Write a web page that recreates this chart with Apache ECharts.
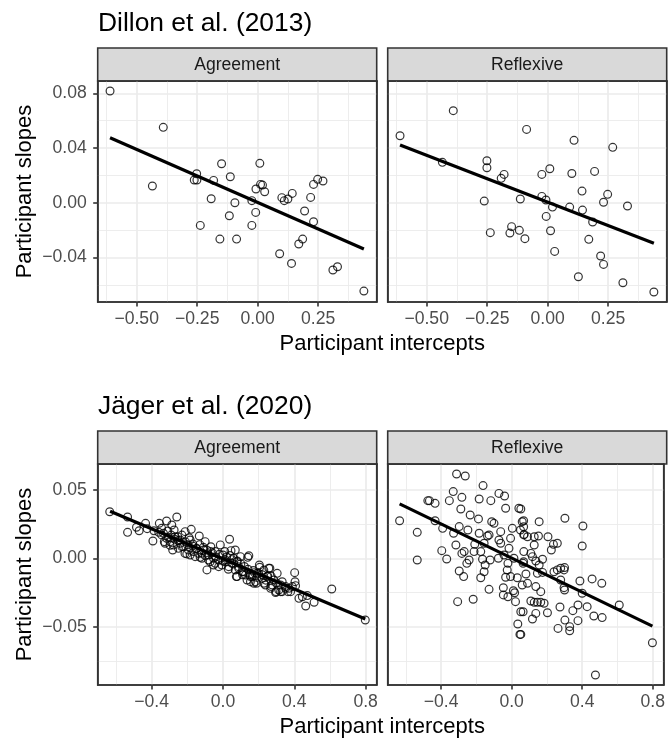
<!DOCTYPE html>
<html>
<head>
<meta charset="utf-8">
<script src="https://cdn.jsdelivr.net/npm/echarts@6/dist/echarts.min.js"></script>
<style>
  html, body { margin: 0; padding: 0; background: #fff; }
  #chart { width: 668px; height: 738px; }
</style>
</head>
<body>
<div id="chart"></div>
<script>
// ---- values: [participant intercept, participant slope] ----
const dillonAgreement = [
  [-0.610, 0.0817], [-0.390, 0.0551], [-0.435, 0.0122], [-0.252, 0.0212], [-0.262, 0.0166],
  [-0.251, 0.0166], [-0.237, -0.0166], [-0.149, 0.0285], [-0.182, 0.0163], [-0.192, 0.0029],
  [-0.113, 0.0190], [-0.156, -0.0266], [-0.117, -0.0095], [-0.094, 0.0000], [-0.087, -0.0266],
  [-0.024, 0.0015], [-0.024, -0.0166], [-0.008, -0.0071], [-0.007, 0.0100], [0.009, 0.0288],
  [0.012, 0.0134], [0.020, 0.0129], [0.029, 0.0080], [0.091, -0.0373], [0.100, 0.0037],
  [0.110, 0.0015], [0.125, 0.0027], [0.143, 0.0068], [0.140, -0.0444], [0.170, -0.0302],
  [0.186, -0.0266], [0.194, -0.0061], [0.219, 0.0039], [0.231, -0.0139], [0.231, 0.0134],
  [0.248, 0.0171], [0.270, 0.0159], [0.311, -0.0492], [0.330, -0.0468], [0.439, -0.0646]
];
const dillonReflexive = [
  [-0.610, 0.0490], [-0.390, 0.0673], [-0.435, 0.0295], [-0.251, 0.0307], [-0.251, 0.0256],
  [-0.180, 0.0207], [-0.192, 0.0178], [-0.262, 0.0012], [-0.237, -0.0219], [-0.149, -0.0175],
  [-0.156, -0.0222], [-0.117, -0.0202], [-0.094, -0.0263], [-0.113, 0.0027], [-0.087, 0.0536],
  [-0.024, 0.0207], [-0.024, 0.0046], [-0.007, 0.0020], [0.009, 0.0248], [0.020, -0.0032],
  [-0.006, -0.0100], [0.012, -0.0205], [0.029, -0.0356], [0.091, -0.0032], [0.100, 0.0214],
  [0.109, 0.0456], [0.142, 0.0085], [0.127, -0.0541], [0.144, -0.0054], [0.170, -0.0268],
  [0.186, -0.0141], [0.194, 0.0229], [0.219, -0.0390], [0.231, -0.0451], [0.231, 0.0003],
  [0.248, 0.0061], [0.269, 0.0405], [0.330, -0.0024], [0.311, -0.0585], [0.439, -0.0653]
];
const jaegerAgreement = [
  [-0.635, 0.0341], [-0.535, 0.0190], [-0.535, 0.0302], [-0.485, 0.0227], [-0.470, 0.0202],
  [-0.434, 0.0256], [-0.425, 0.0217], [-0.393, 0.0127], [-0.387, 0.0202], [-0.357, 0.0256],
  [-0.344, 0.0219], [-0.334, 0.0183], [-0.329, 0.0122], [-0.316, 0.0273], [-0.306, 0.0154],
  [-0.297, 0.0095], [-0.287, 0.0244], [-0.282, 0.0061], [-0.274, 0.0207], [-0.259, 0.0302],
  [-0.253, 0.0158], [-0.240, 0.0134], [-0.231, 0.0085], [-0.212, 0.0195], [-0.203, 0.0032],
  [-0.184, 0.0134], [-0.178, 0.0212], [-0.169, 0.0105], [-0.147, 0.0073], [-0.133, 0.0163],
  [-0.128, 0.0007], [-0.118, 0.0037], [-0.100, 0.0122], [-0.090, -0.0085], [-0.081, -0.0012],
  [-0.068, 0.0085], [-0.053, -0.0049], [-0.043, 0.0049], [-0.024, -0.0061], [-0.015, 0.0098],
  [0.000, 0.0024], [0.013, -0.0012], [0.037, 0.0139], [0.045, 0.0056], [0.060, -0.0041],
  [0.075, -0.0134], [0.088, -0.0061], [0.098, 0.0012], [0.116, -0.0098], [0.139, 0.0007],
  [0.154, -0.0134], [0.176, -0.0105], [0.188, -0.0183], [0.206, -0.0066], [0.229, -0.0183],
  [0.251, -0.0129], [0.263, -0.0073], [0.270, -0.0207], [0.295, -0.0251], [0.304, -0.0110],
  [0.323, -0.0244], [0.332, -0.0171], [0.351, -0.0220], [0.364, -0.0244],
  [0.069, 0.0061], [0.079, -0.0025], [0.145, 0.0019], [0.154, -0.0171], [0.173, -0.0183],
  [0.204, -0.0049], [0.238, -0.0195], [0.257, -0.0073], [0.267, -0.0220], [0.298, -0.0244],
  [0.332, -0.0244], [0.351, -0.0207], [0.379, -0.0244], [0.402, -0.0105], [0.404, -0.0171],
  [0.407, -0.0200], [0.426, -0.0293], [0.445, -0.0281], [0.464, -0.0349], [0.473, -0.0273],
  [0.511, -0.0322], [0.610, -0.0225], [0.798, -0.0451],
  [0.088, -0.0073], [0.107, -0.0098], [0.126, -0.0122], [0.135, -0.0159], [0.163, -0.0134],
  [0.182, -0.0171], [0.191, -0.0110], [0.220, -0.0147], [0.229, -0.0086], [0.248, -0.0134],
  [0.276, -0.0195], [0.285, -0.0159], [0.313, -0.0232], [0.323, -0.0195], [0.370, -0.0220],
  [0.389, -0.0207],
  [-0.344, 0.0171], [-0.325, 0.0110], [-0.316, 0.0146], [-0.297, 0.0122], [-0.278, 0.0097],
  [-0.269, 0.0158], [-0.250, 0.0073], [-0.241, 0.0110], [-0.222, 0.0085], [-0.213, 0.0036],
  [-0.194, 0.0061], [-0.184, 0.0024], [-0.165, 0.0049], [-0.156, 0.0012], [-0.137, 0.0036],
  [-0.118, 0.0000], [-0.109, 0.0061], [-0.081, 0.0024], [-0.072, -0.0025], [-0.053, 0.0000],
  [-0.044, -0.0037], [-0.025, -0.0012], [-0.006, -0.0049], [0.013, -0.0025], [0.032, -0.0061],
  [0.050, -0.0037], [0.069, -0.0086], [0.079, -0.0134],
  [-0.020, 0.0030], [0.020, 0.0010], [0.050, -0.0010], [-0.060, 0.0040], [0.100, -0.0040],
  [0.120, -0.0060], [0.140, -0.0080], [-0.150, 0.0070], [-0.200, 0.0100], [-0.250, 0.0130],
  [0.000, -0.0020], [0.030, -0.0080], [-0.100, 0.0020], [0.170, -0.0090], [0.200, -0.0110],
  [0.220, -0.0120], [-0.360, 0.0190], [-0.310, 0.0200], [-0.290, 0.0170], [-0.270, 0.0140],
  [-0.230, 0.0170], [-0.210, 0.0120], [-0.190, 0.0150], [-0.170, 0.0090], [-0.130, 0.0100],
  [-0.110, 0.0080], [-0.090, 0.0060], [-0.070, 0.0050], [-0.040, 0.0010], [0.010, 0.0050],
  [0.040, 0.0020], [0.060, 0.0000], [0.080, -0.0020], [0.110, -0.0120], [0.150, -0.0120],
  [0.190, -0.0140], [0.240, -0.0160], [0.270, -0.0130], [0.300, -0.0180]
];
const jaegerReflexive = [
  [-0.312, 0.0617], [-0.263, 0.0602], [-0.331, 0.0488], [-0.162, 0.0532], [-0.475, 0.0422],
  [-0.466, 0.0422], [-0.434, 0.0402], [-0.353, 0.0422], [-0.282, 0.0446], [-0.184, 0.0434],
  [-0.118, 0.0422], [-0.072, 0.0475], [-0.040, 0.0456], [-0.034, 0.0366], [0.041, 0.0366],
  [-0.288, 0.0361], [-0.235, 0.0317], [-0.188, 0.0288], [-0.635, 0.0275], [-0.434, 0.0275],
  [-0.535, 0.0190], [-0.535, -0.0012], [-0.391, 0.0219], [-0.329, 0.0183], [-0.297, 0.0232],
  [-0.248, 0.0207], [-0.316, 0.0097], [-0.396, 0.0056], [-0.368, -0.0005], [-0.269, 0.0049],
  [-0.282, 0.0036], [-0.241, -0.0012], [-0.254, -0.0037], [-0.297, -0.0093], [-0.272, -0.0134],
  [-0.306, -0.0317], [-0.218, -0.0300], [-0.213, 0.0049], [-0.175, 0.0049], [-0.175, -0.0142],
  [-0.165, -0.0007], [-0.156, -0.0098], [-0.150, -0.0049], [-0.128, -0.0227], [-0.122, -0.0012],
  [-0.113, 0.0268], [-0.100, 0.0256], [-0.137, 0.0163], [-0.184, 0.0183], [-0.209, 0.0102],
  [-0.156, 0.0110], [-0.128, 0.0171], [-0.072, 0.0134], [-0.062, 0.0110], [-0.075, 0.0000],
  [-0.043, 0.0024], [-0.015, 0.0073], [0.004, 0.0219], [-0.062, 0.0195], [-0.006, 0.0146],
  [0.050, 0.0207], [0.060, 0.0268], [-0.021, -0.0037], [0.013, 0.0000], [-0.025, -0.0086],
  [-0.034, -0.0139], [-0.047, -0.0215], [-0.047, -0.0268], [0.017, -0.0252], [-0.021, -0.0281],
  [0.022, -0.0317], [-0.006, -0.0134], [0.032, -0.0142], [0.010, -0.0237], [0.035, -0.0481],
  [0.047, -0.0557], [0.065, -0.0391], [0.065, -0.0037], [0.069, 0.0049], [0.060, -0.0195],
  [0.069, 0.0171],
  [0.052, 0.0361], [0.068, 0.0275], [0.068, 0.0231], [0.071, 0.0175], [0.090, 0.0158],
  [0.128, 0.0158], [0.152, 0.0163], [0.156, 0.0268], [0.206, 0.0158], [0.128, 0.0097],
  [0.109, 0.0036], [0.118, 0.0012], [0.137, -0.0020], [0.175, -0.0007], [0.156, -0.0049],
  [0.068, -0.0025], [0.081, -0.0115], [0.090, -0.0183], [0.137, -0.0207], [0.165, -0.0244],
  [0.146, -0.0110], [0.175, -0.0103], [0.225, 0.0061], [0.237, 0.0102], [0.259, 0.0110],
  [0.302, 0.0293], [0.240, -0.0098], [0.259, -0.0085], [0.278, -0.0073], [0.300, -0.0068],
  [0.297, -0.0085], [0.278, -0.0159], [0.297, -0.0215], [0.300, -0.0232], [0.109, -0.0312],
  [0.128, -0.0322], [0.146, -0.0322], [0.165, -0.0322], [0.184, -0.0329], [0.052, -0.0391],
  [0.137, -0.0403], [0.203, -0.0398], [0.118, -0.0444], [0.052, -0.0557], [0.274, -0.0356],
  [0.302, -0.0452], [0.263, -0.0513], [0.329, -0.0500], [0.329, -0.0530], [0.347, -0.0383],
  [0.376, -0.0342], [0.376, -0.0456], [0.387, -0.0166], [0.400, -0.0256], [0.404, 0.0236],
  [0.400, 0.0090], [0.428, -0.0354], [0.456, -0.0151], [0.466, -0.0422], [0.511, -0.0183],
  [0.513, -0.0434], [0.610, -0.0342], [0.798, -0.0618], [0.475, -0.0854]
];

// fitted lm lines, endpoints
const dillonAgreementFit = [[-0.610, 0.0475], [0.439, -0.0339]];
const dillonReflexiveFit = [[-0.610, 0.0422], [0.439, -0.0297]];
const jaegerAgreementFit = [[-0.633, 0.0345], [0.798, -0.0444]];
const jaegerReflexiveFit = [[-0.635, 0.0398], [0.798, -0.0496]];

// axes
const dillonXRange = [-0.661, 0.492];
const dillonYRange = [-0.0726, 0.089];
const jaegerXRange = [-0.7025, 0.862];
const jaegerYRange = [-0.0927, 0.069];
const dillonXBreaks = [-0.5, -0.25, 0, 0.25];
const dillonXMinor = [-0.625, -0.375, -0.125, 0.125, 0.375];
const dillonYBreaks = [-0.04, 0, 0.04, 0.08];
const dillonYMinor = [-0.06, -0.02, 0.02, 0.06];
const jaegerXBreaks = [-0.4, 0, 0.4, 0.8];
const jaegerXMinor = [-0.6, -0.2, 0.2, 0.6];
const jaegerYBreaks = [-0.05, 0, 0.05];
const jaegerYMinor = [-0.075, -0.025, 0.025];

const studies = ['Dillon et al. (2013)', 'J\u00e4ger et al. (2020)'];
const facets = ['Agreement', 'Reflexive'];
const xTitle = 'Participant intercepts';
const yTitle = 'Participant slopes';

const FONT = '"Liberation Sans", Arial, Helvetica, sans-serif';
const panelLefts = [97.7, 387.7];
const panelTops = [81, 464];
const panelW = 279, panelH = 221, stripH = 33;
const BORDER = '#333333', GRID = '#EBEBEB';

const studyAxes = [
  { xr: dillonXRange, yr: dillonYRange, xb: dillonXBreaks, xm: dillonXMinor, xs: 0.25, xms: 0.125, xd: 2,
    yb: dillonYBreaks, ym: dillonYMinor, ys: 0.04, yms: 0.02, yd: 2 },
  { xr: jaegerXRange, yr: jaegerYRange, xb: jaegerXBreaks, xm: jaegerXMinor, xs: 0.4, xms: 0.2, xd: 1,
    yb: jaegerYBreaks, ym: jaegerYMinor, ys: 0.05, yms: 0.025, yd: 2 }
];
const panels = [
  { row: 0, col: 0, data: dillonAgreement, fit: dillonAgreementFit },
  { row: 0, col: 1, data: dillonReflexive, fit: dillonReflexiveFit },
  { row: 1, col: 0, data: jaegerAgreement, fit: jaegerAgreementFit },
  { row: 1, col: 1, data: jaegerReflexive, fit: jaegerReflexiveFit }
];

function tickFormatter(step, digits) {
  return function (v) {
    const k = v / step;
    if (Math.abs(k - Math.round(k)) > 1e-6) return '';
    const n = Math.abs(v) < 1e-9 ? 0 : v;
    return n.toFixed(digits).replace('-', '\u2212');
  };
}

// main axis (ticks, labels, major grid) + helper axis (far border, minor grid)
function makeAxes(g, pos, farPos, range, majors, minors, step, minorStep, digits, showLabels, margin) {
  const line = { show: true, onZero: false, lineStyle: { color: BORDER, width: 1.6 } };
  return [{
    type: 'value', gridIndex: g, position: pos, min: range[0], max: range[1],
    minInterval: step, maxInterval: step,
    axisLine: line,
    axisTick: { show: showLabels, length: 4.5, customValues: majors, lineStyle: { color: BORDER, width: 1.6 } },
    axisLabel: { show: showLabels, customValues: majors, formatter: tickFormatter(step, digits),
      fontFamily: FONT, fontSize: 17.6, color: '#4D4D4D', margin: margin },
    splitLine: { show: true, lineStyle: { color: GRID, width: 1.7 } }
  }, {
    type: 'value', gridIndex: g, position: farPos, min: range[0], max: range[1],
    minInterval: minorStep, maxInterval: minorStep,
    axisLine: line,
    axisTick: { show: false, customValues: minors },
    axisLabel: { show: false, customValues: minors },
    splitLine: { show: true, lineStyle: { color: GRID, width: 0.9 } }
  }];
}

const grids = [], xAxes = [], yAxes = [], series = [];
panels.forEach(function (p, g) {
  const a = studyAxes[p.row];
  grids.push({ left: panelLefts[p.col], top: panelTops[p.row], width: panelW, height: panelH,
    show: true, backgroundColor: '#fff', borderColor: BORDER, borderWidth: 1.6 });
  xAxes.push.apply(xAxes, makeAxes(g, 'bottom', 'top', a.xr, a.xb, a.xm, a.xs, a.xms, a.xd, true, 8.5));
  yAxes.push.apply(yAxes, makeAxes(g, 'left', 'right', a.yr, a.yb, a.ym, a.ys, a.yms, a.yd, p.col === 0, 11));
  series.push({
    type: 'scatter', xAxisIndex: 2 * g, yAxisIndex: 2 * g, data: p.data,
    symbol: 'circle', symbolSize: 7.8, z: 3,
    itemStyle: { color: 'rgba(0,0,0,0)', borderColor: '#000', borderWidth: 1.2 }
  });
  series.push({
    type: 'line', xAxisIndex: 2 * g, yAxisIndex: 2 * g, data: p.fit,
    showSymbol: false, symbol: 'none', z: 4, silent: true,
    lineStyle: { color: '#000', width: 3.2, cap: 'butt' }
  });
});

const graphics = [];
studies.forEach(function (s, r) {
  const top = panelTops[r];
  graphics.push({ type: 'text', x: 98, y: top - stripH - 24.5,
    style: { text: s, font: '26.4px ' + FONT, fill: '#000', textVerticalAlign: 'middle', verticalAlign: 'middle' } });
  facets.forEach(function (f, c) {
    graphics.push({ type: 'rect', shape: { x: panelLefts[c], y: top - stripH, width: panelW, height: stripH },
      style: { fill: '#D9D9D9', stroke: BORDER, lineWidth: 1.6 } });
    graphics.push({ type: 'text', x: panelLefts[c] + panelW / 2, y: top - stripH / 2 + 0.5,
      style: { text: f, font: '17.6px ' + FONT, fill: '#1A1A1A',
        textAlign: 'center', align: 'center', textVerticalAlign: 'middle', verticalAlign: 'middle' } });
  });
  graphics.push({ type: 'text', x: (panelLefts[0] + panelLefts[1] + panelW) / 2, y: top + panelH + 41.5,
    style: { text: xTitle, font: '22px ' + FONT, fill: '#000',
      textAlign: 'center', align: 'center', textVerticalAlign: 'middle', verticalAlign: 'middle' } });
  graphics.push({ type: 'text', x: 25, y: top + panelH / 2, rotation: Math.PI / 2,
    style: { text: yTitle, font: '22px ' + FONT, fill: '#000',
      textAlign: 'center', align: 'center', textVerticalAlign: 'middle', verticalAlign: 'middle' } });
});

const chart = echarts.init(document.getElementById('chart'), null, { renderer: 'canvas' });
chart.setOption({
  animation: false,
  backgroundColor: '#fff',
  grid: grids,
  xAxis: xAxes,
  yAxis: yAxes,
  series: series,
  graphic: { elements: graphics }
});
</script>
</body>
</html>
